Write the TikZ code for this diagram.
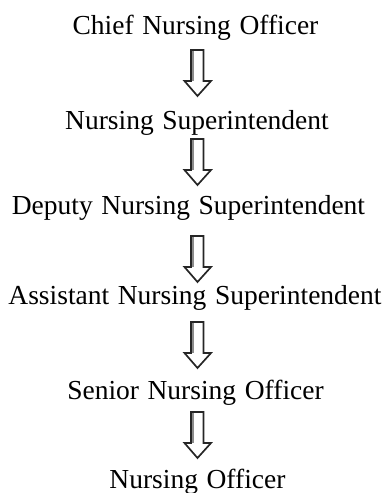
\documentclass[tikz,border=0pt]{standalone}
\usepackage{fontspec}
\setmainfont{Liberation Serif}[WordSpace={1.25,1,1}]
\begin{document}
\begin{tikzpicture}[x=1pt,y=1pt,
  label/.style={anchor=base,inner sep=0pt,font=\fontsize{27.5}{30}\selectfont},
  arrowline/.style={draw=black!85,line width=1.7pt,fill=white,line join=miter},
  shadeline/.style={draw=black!45,line width=1.2pt},
  fatarrow/.pic={\path[arrowline] (-6.5,0) -- (6,0) -- (6,-31) -- (13.5,-31) -- (0,-46) -- (-13,-31) -- (-6.5,-31) -- cycle;
    \path[shadeline] (-4.5,-1) -- (-4.5,-31);}]
\useasboundingbox (0,0) rectangle (386,493);
\node[label] (t1) at (195.5,458) {Chief Nursing Officer};
\node[label] (t2) at (197,363) {Nursing Superintendent};
\node[label] (t3) at (188.5,278) {Deputy Nursing Superintendent};
\node[label] (t4) at (195,188) {Assistant Nursing Superintendent};
\node[label] (t5) at (195.5,93) {Senior Nursing Officer};
\node[label] (t6) at (197.5,5) {Nursing Officer};
\coordinate (a1) at (197.5,443);
\coordinate (a2) at (197.5,354);
\coordinate (a3) at (197.5,257);
\coordinate (a4) at (197.5,171);
\coordinate (a5) at (197.5,81);
\foreach \a in {a1,a2,a3,a4,a5} \pic at (\a) {fatarrow};
\end{tikzpicture}
\end{document}
